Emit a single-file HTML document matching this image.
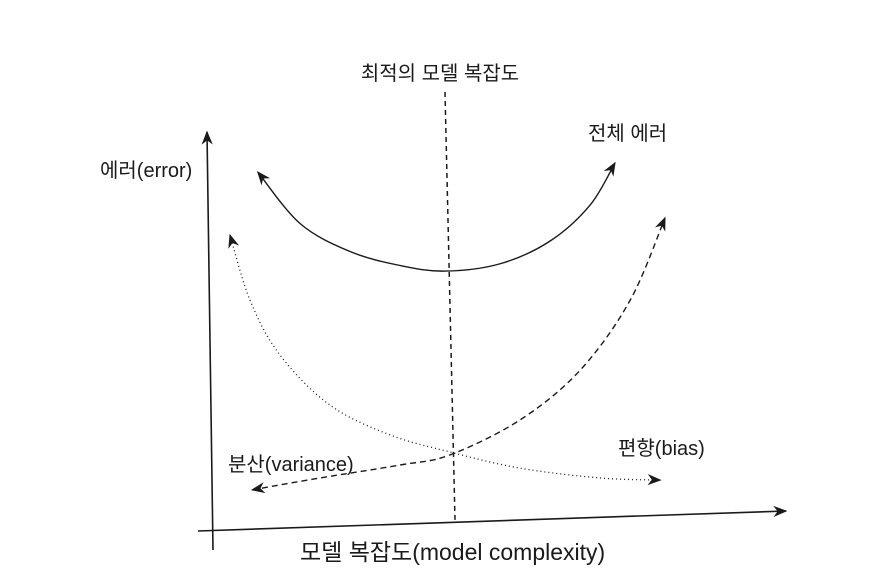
<!DOCTYPE html>
<html><head><meta charset="utf-8"><style>
body{margin:0;background:#fff;width:870px;height:582px;overflow:hidden}
text{font-family:"Liberation Sans","Noto Sans CJK KR",sans-serif;fill:#1a1a1a}
</style></head><body>
<svg width="870" height="582" viewBox="0 0 870 582">
<defs>
<marker id="ah" viewBox="0 0 10 10" refX="9" refY="5" markerWidth="14" markerHeight="14" markerUnits="userSpaceOnUse" orient="auto">
<path d="M0,1 L10,5 L0,9 L3,5 Z" fill="#1a1a1a"/></marker>
</defs>
<line x1="213" y1="550" x2="207" y2="132" stroke="#1a1a1a" stroke-width="1.6" marker-end="url(#ah)"/>
<line x1="198" y1="531" x2="786" y2="511" stroke="#1a1a1a" stroke-width="1.6" marker-end="url(#ah)"/>
<line x1="445" y1="92" x2="455" y2="520" stroke="#1a1a1a" stroke-width="1.5" stroke-dasharray="5,4"/>
<g id="curves"></g>
<text x="440" y="80" font-size="20" text-anchor="middle">최적의 모델 복잡도</text>
<text x="588" y="140" font-size="20">전체 에러</text>
<text x="100" y="177" font-size="20">에러(error)</text>
<text x="228" y="471" font-size="20">분산(variance)</text>
<text x="618" y="455" font-size="20">편향(bias)</text>
<text x="300" y="560" font-size="23">모델 복잡도(model complexity)</text>
</svg>
<script>
const totalC=[0.64,1.61,2.76,3.91,4.94,6.21,7.36,8.28,8.85];
const totalE=[9.37,7.9,7.1,6.7,6.54,6.75,7.4,8.43,9.63];
const varC=[0,0.46,1.15,2.3,3.68,5.06,6.67,8.51,9.89];
const varE=[7.57,5.71,4.14,2.71,1.86,1.37,0.91,0.63,0.57];
const biasC=[0.51,2.07,3.91,5.06,6.67,8.05,9.2,10];
const biasE=[0.29,0.63,1.0,1.29,2.29,3.71,5.71,8.06];
function xs(c){return 230+c*43.5;}
function ys(e){return 500-e*35;}
function path(C,E){
  const p=C.map((c,i)=>[xs(c),ys(E[i])]);
  let d='M'+p[0][0]+','+p[0][1];
  for(let i=0;i<p.length-1;i++){
    const p0=p[Math.max(i-1,0)],p1=p[i],p2=p[i+1],p3=p[Math.min(i+2,p.length-1)];
    const c1=[p1[0]+(p2[0]-p0[0])/6,p1[1]+(p2[1]-p0[1])/6];
    const c2=[p2[0]-(p3[0]-p1[0])/6,p2[1]-(p3[1]-p1[1])/6];
    d+=' C'+c1+' '+c2+' '+p2;
  }
  return d;
}
const g=document.getElementById('curves');
function add(C,E,dash,w,name){
  const el=document.createElementNS('http://www.w3.org/2000/svg','path');
  el.setAttribute('d',path(C,E));
  el.setAttribute('fill','none');
  el.setAttribute('stroke','#1a1a1a');
  el.setAttribute('stroke-width',w);
  if(dash)el.setAttribute('stroke-dasharray',dash);
  el.setAttribute('marker-start','url(#ahs)');
  el.setAttribute('marker-end','url(#ah)');
  
  
  g.appendChild(el);
}
const defs=document.querySelector('defs');
const m=document.getElementById('ah').cloneNode(true);
m.id='ahs';m.setAttribute('orient','auto-start-reverse');defs.appendChild(m);
add(totalC,totalE,null,1.4,'total-error-curve');
add(varC,varE,'1,3',1.3,'variance-curve');
add(biasC,biasE,'6,4',1.4,'bias-curve');
</script>
</body></html>
